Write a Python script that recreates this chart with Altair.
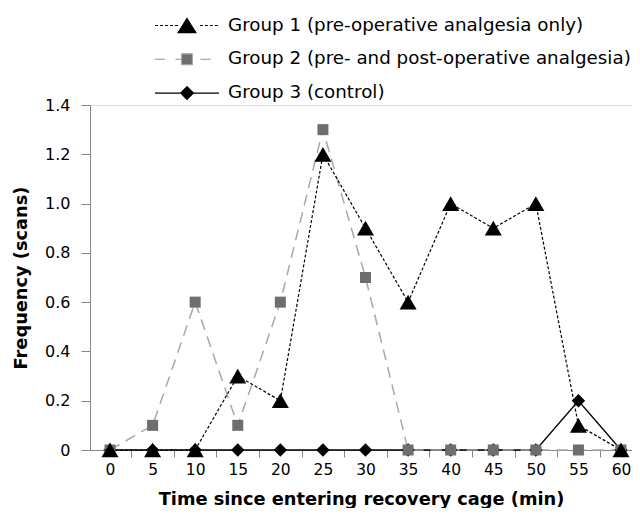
import altair as alt
import pandas as pd

# ---- data ----
times = [0, 5, 10, 15, 20, 25, 30, 35, 40, 45, 50, 55, 60]
group1 = [0, 0, 0, 0.3, 0.2, 1.2, 0.9, 0.6, 1.0, 0.9, 1.0, 0.1, 0]
group2 = [0, 0.1, 0.6, 0.1, 0.6, 1.3, 0.7, 0, 0, 0, 0, 0, 0]
group3 = [0, 0, 0, 0, 0, 0, 0, 0, 0, 0, 0, 0.2, 0]
labels = [
    "Group 1 (pre-operative analgesia only)",
    "Group 2 (pre- and post-operative analgesia)",
    "Group 3 (control)",
]
x_tick_marks = [2.5, 7.5, 12.5, 17.5, 22.5, 27.5, 32.5, 37.5, 42.5, 47.5, 52.5, 57.5]
y_ticks = [0, 0.2, 0.4, 0.6, 0.8, 1.0, 1.2, 1.4]

rows = []
for lab, vals in zip(labels, [group1, group2, group3]):
    for t, v in zip(times, vals):
        rows.append({"time": t, "value": v, "group": lab})
df = pd.DataFrame(rows)

FONT = "DejaVu Sans"
AXIS_GRAY = "#868686"

x_enc = alt.X(
    "time:Q",
    scale=alt.Scale(domain=[-2.35, 61.29], nice=False, zero=False),
    axis=alt.Axis(
        values=sorted(times + x_tick_marks),
        labelExpr="datum.value % 5 === 0 ? format(datum.value, 'd') : ''",
        tickOpacity={"condition": {"test": "datum.value % 5 === 0", "value": 0}, "value": 1},
        tickSize=7,
        tickColor=AXIS_GRAY,
        domainColor=AXIS_GRAY,
        labelPadding=5,
        labelFlush=False,
        labelOverlap=False,
        labelFont=FONT,
        labelFontSize=15.5,
        labelColor="black",
        title="Time since entering recovery cage (min)",
        titleFont=FONT,
        titleFontSize=17.8,
        titleFontWeight="bold",
        titleColor="black",
        titlePadding=13,
        grid=False,
    ),
)
y_enc = alt.Y(
    "value:Q",
    scale=alt.Scale(domain=[0, 1.4], nice=False),
    axis=alt.Axis(
        values=y_ticks,
        labelExpr="datum.value === 0 ? '0' : format(datum.value, '.1f')",
        tickSize=9,
        tickColor=AXIS_GRAY,
        domainColor=AXIS_GRAY,
        labelPadding=11,
        labelFont=FONT,
        labelFontSize=16,
        labelColor="black",
        title="Frequency (scans)",
        titleFont=FONT,
        titleFontSize=17.8,
        titleFontWeight="bold",
        titleColor="black",
        titlePadding=14,
        grid=False,
    ),
)

base = alt.Chart(df).encode(x=x_enc, y=y_enc)

line_styles = [
    {"color": "black", "strokeDash": [3, 2], "strokeWidth": 1.2},
    {"color": "#a8a8a8", "strokeDash": [11, 7], "strokeWidth": 1.5},
    {"color": "black", "strokeWidth": 1.3},
]
point_styles = [
    {"shape": "triangle-up", "size": 290, "color": "black"},
    {"shape": "square", "size": 121, "color": "#6e6e6e"},
    {"shape": "diamond", "size": 180, "color": "black"},
]

lines = []
points = []
for lab, ls, ps in zip(labels, line_styles, point_styles):
    f = alt.datum.group == lab
    lines.append(base.transform_filter(f).mark_line(**ls))
    points.append(
        base.transform_filter(f).mark_point(
            filled=True, shape=ps["shape"], size=ps["size"], color=ps["color"], opacity=1
        )
    )


# legend symbols (line + marker) as custom symbol paths
def seg(a, b):
    return f"M{a:.3f},0H{b:.3f}"


p1 = ""
x = -1.0
while x < 1.0:
    a, b = x, min(x + 0.094, 1.0)
    if b < -0.28 or a > 0.28:
        p1 += seg(a, b)
    x += 0.156
p1 += "M0,-0.22L0.277,0.22L-0.277,0.22Z"
p2 = seg(-1, -0.69) + seg(-0.36, -0.17) + seg(0.42, 0.74) + "M-0.17,-0.17H0.17V0.17H-0.17Z"
p3 = seg(-1, 1) + "M-0.2,0L0,-0.2L0.2,0L0,0.2Z"

legend = alt.Legend(
    orient="none",
    legendX=64,
    legendY=-89.5,
    title=None,
    direction="vertical",
    symbolSize=64 * 64,
    symbolStrokeWidth=1.2,
    symbolOpacity=1,
    clipHeight=20,
    labelFont=FONT,
    labelFontSize=18.3,
    labelColor="black",
    labelLimit=0,
    labelOffset=8,
    rowPadding=13.8,
    padding=0,
)
legend_layer = base.transform_filter("false").mark_point(filled=True).encode(
    shape=alt.Shape("group:N", scale=alt.Scale(domain=labels, range=[p1, p2, p3]), legend=legend),
    fill=alt.Fill("group:N", scale=alt.Scale(domain=labels, range=["black", "#6e6e6e", "black"]), legend=legend),
    stroke=alt.Stroke("group:N", scale=alt.Scale(domain=labels, range=["black", "#a8a8a8", "black"]), legend=legend),
)

chart = (
    alt.layer(lines[2], lines[1], lines[0], points[2], points[1], points[0], legend_layer)
    .properties(
        width=542,
        height=345,
        autosize=alt.AutoSizeParams(type="none"),
        padding={"left": 82, "top": 97, "right": 0, "bottom": 58},
    )
    .configure_view(stroke=None)
    .configure(font=FONT)
)

chart.save("out.html", embed_options={"renderer": "svg", "actions": False})
